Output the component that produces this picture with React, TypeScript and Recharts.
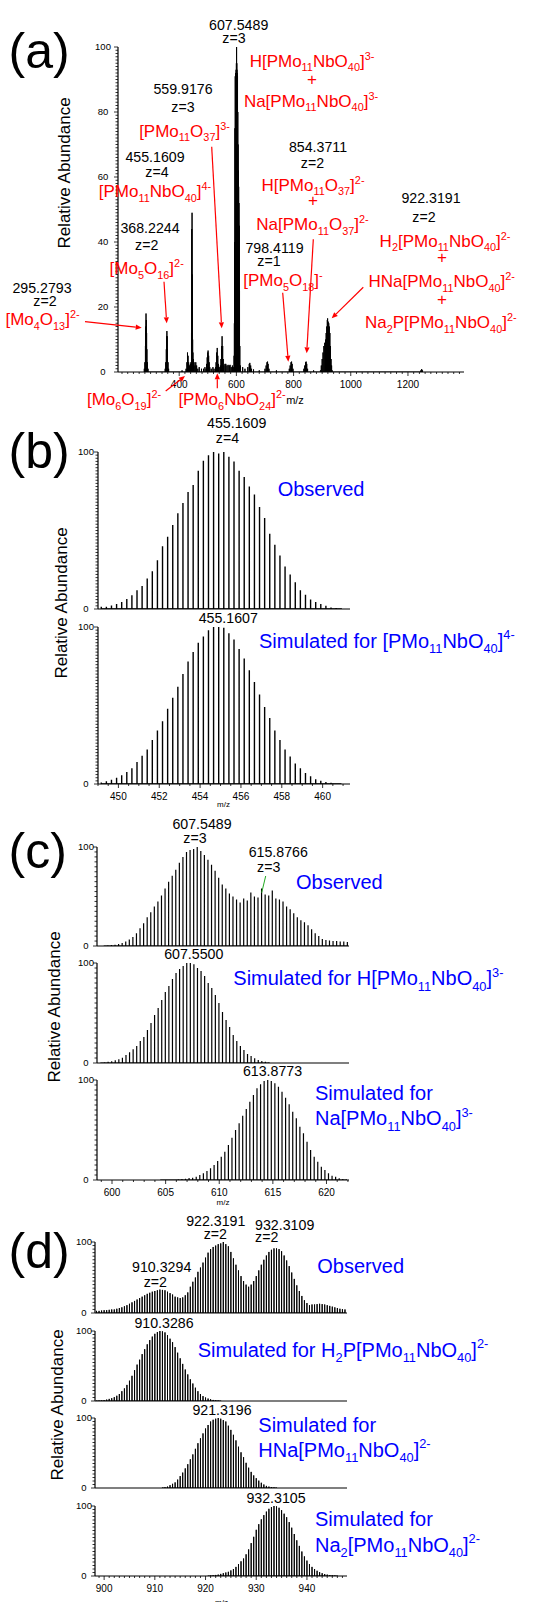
import React from 'react';
import { LineChart, Line, XAxis, YAxis } from 'recharts';

const FONT = '"Liberation Sans", Arial, sans-serif';
const RED = '#ff0000';
const BLUE = '#0000ff';

// (a) full scan, [m/z, relative abundance]
const FULL_SCAN: [number, number][] = [
  [278, 1], [280, 3], [282, 8], [283, 14], [284, 18], [285, 16], [286, 12], [287, 7], [289, 3], [291, 1],
  [351, 1], [353, 3], [355, 7], [356, 11], [357, 12.6], [358, 11], [359, 7], [361, 3], [363, 1],
  [410, 0.5], [424, 1], [427, 3], [429, 6], [431, 5], [433, 3], [436, 2], [439, 2.5],
  [441, 3], [443, 12], [444, 44], [445, 49], [446, 30], [447, 10], [448, 6], [450, 4], [452, 3], [455, 2],
  [458, 3], [461, 2], [465, 1], [470, 1.5], [478, 1],
  [485, 1], [490, 1.5], [494, 1], [496, 2.5], [498, 4.5], [500, 6], [501, 6.6], [503, 5], [505, 3], [507, 1.5],
  [512, 1], [518, 1.5], [522, 1],
  [527, 1.5], [529, 3], [531, 6], [533, 7.4], [535, 5], [537, 2.5], [540, 1.5],
  [544, 2], [546, 4], [548, 8], [550, 11], [552, 8], [554, 4], [556, 2],
  [560, 2.5], [563, 2.5], [567, 2], [571, 2.2], [575, 2], [578, 2.2], [582, 1.5], [586, 2], [589, 1.5],
  [592, 5], [593, 15], [594, 40], [595, 75], [596, 91], [597, 92], [598, 92], [599, 93], [600, 95], [600.7, 100],
  [601.5, 95], [602, 93], [603, 92], [604, 91], [605, 80], [606, 70], [607, 62], [608, 57], [609, 52], [610, 45],
  [611, 25], [612, 8], [614, 2],
  [622, 1.5], [630, 1], [640, 1.5], [645, 2.5], [647, 2.8], [650, 2], [653, 1], [660, 0.8], [680, 0.5],
  [700, 1], [704, 2], [707, 3], [709, 3.2], [711, 2.5], [714, 1], [740, 0.5],
  [785, 1], [788, 2], [791, 3], [793, 3.2], [795, 2.5], [798, 1],
  [836, 1], [839, 2], [842, 3], [844, 3.2], [846, 2.5], [849, 1], [870, 0.5],
  [894, 0.5], [897, 2], [900, 4], [903, 6], [906, 8], [909, 9], [912, 10], [914, 12], [916, 14], [918, 16],
  [919, 16.5], [920, 14], [921, 15.5], [923, 15], [925, 14], [927, 12], [929, 8], [931, 4], [933, 2], [935, 0.5],
  [1245, 0.5], [1248, 0.9], [1251, 0.5],
];

// (b) z=4, sticks every 0.25
const B_START = 449.16;
const B_OBSERVED = [
  1.5, 1.5, 2.3, 3.2, 4.5, 6.4, 8.7, 12, 14.6, 19.5, 24, 31, 40, 46, 53.5, 61, 67.5, 74.5, 79, 88,
  94.5, 98, 100, 99, 100, 97, 94, 88, 84, 78, 73, 65, 58, 48, 41, 34, 27, 22, 17, 12,
  9, 6, 4.5, 3.2, 2, 1, 0.7, 0.5,
];
const B_SIMULATED = [
  1, 1.7, 2.7, 4, 5.5, 7.6, 10, 14, 18, 22, 28, 34, 40, 48, 55, 62, 70, 78, 84, 90,
  94, 98, 100, 100, 99.5, 96, 92, 86, 80, 72.5, 65, 57, 49, 42, 34, 28, 22, 17.5, 13, 10,
  7, 5, 3, 2, 1.3, 0.8, 0.4, 0.2,
];

// (c) z=3, sticks every 1/3
const C_OBS_START = 599.28;
const C_OBSERVED = [
  0.5, 0.7, 1, 1.3, 2, 3, 4.5, 6.5, 9, 13, 18, 23, 29, 34, 40, 45, 51, 58, 65, 71,
  77, 84, 90, 95, 97, 98, 100, 96, 92, 87, 82, 76, 69, 62, 58, 53, 50, 47, 44, 48,
  46, 54, 50, 49, 58, 52, 51, 56, 48, 47, 45, 40, 37, 33, 29, 26, 24, 21, 17, 13,
  10, 7, 6, 5.5, 5, 5, 4.5, 4.5, 4,
];
const C_H_START = 598.97;
const C_SIM_H = [
  0.5, 0.8, 1.2, 1.8, 2.7, 3.7, 5.3, 8, 10.7, 13.7, 17, 22, 26, 33, 40, 48, 55, 63, 71, 77,
  84, 90, 94, 97, 100, 100, 98.7, 95, 92, 87, 80, 75, 68, 60, 51, 43, 36, 28, 22, 17,
  13, 9, 7, 4.7, 3, 2, 1.3, 0.7,
];
const C_NA_START = 604.52;
const C_SIM_NA = [
  0.2, 0.3, 0.4, 0.5, 0.6, 0.8,
  1, 1.3, 2, 2.3, 3.3, 5, 6.7, 9, 11.7, 15, 19, 23.3, 28.3, 35, 42.3, 50, 56.7, 64.3, 71, 78.3,
  85, 91.7, 95.7, 99, 100, 99, 96.7, 93.3, 88.3, 82.3, 75.7, 68.3, 61.7, 53.3, 46.7, 38.3, 30, 23.3,
  18.3, 13.3, 10, 6.7, 4.3, 3.3, 1.7, 1, 0.7,
];

// (d) z=2, sticks every 0.5
const D_OBS_START = 898.5;
const D_OBSERVED = [
  3, 3, 3.5, 4, 4, 4.5, 5, 5, 6, 7, 8, 9.5, 11, 13, 15, 17, 19, 21, 23, 25,
  27, 28.5, 30, 31, 32, 33, 32.5, 32, 30, 28, 26, 23, 22, 21, 22, 25, 29, 37, 44, 50,
  58, 64, 71, 78, 85, 90, 93, 95, 97, 98, 100, 97, 94, 86, 77, 68, 60, 52, 45, 40,
  37, 40, 45, 52, 60, 68, 75, 81, 86, 89, 91, 91, 90, 87, 81, 74, 66, 57, 48, 39,
  31, 24, 18, 14, 11, 12, 12, 12.5, 13, 12.5, 12, 11, 10, 9, 8, 7, 6, 5.5, 5,
];
const D_H2P_START = 898.5;
const D_SIM_H2P = [
  0.5, 0.6, 0.8, 1.2, 2, 3, 4, 5.5, 7.5, 10, 14, 18, 23, 29, 36, 44, 52, 59, 67, 74,
  81, 87, 92, 96, 98.5, 100, 99.5, 98, 94, 89, 84, 77, 69, 61, 53, 45, 38, 31, 25, 19,
  14, 10, 7, 5, 3.5, 2.5, 1.5, 1, 0.6, 0.3,
];
const D_HNA_START = 911.5;
const D_SIM_HNA = [
  0.5, 1, 2, 4, 6, 8, 12, 17, 22, 28, 34, 41, 48, 56, 64, 71, 78, 85, 90, 95,
  97.5, 99, 100, 99, 97, 95, 89, 83, 76, 68, 59, 51, 44, 36, 29, 23, 18, 14, 10.5, 7.5,
  5, 3, 2, 1.2, 0.7, 0.4,
];
const D_NA2_START = 920.5;
const D_SIM_NA2 = [
  0.3, 0.6, 1, 1.5, 2, 3, 4, 5, 6, 8, 10, 13, 17, 21, 25, 31, 38, 47, 56, 66,
  74, 81, 87, 92, 96, 98.5, 100, 99.5, 97.5, 94, 89, 84, 77, 69, 60, 51, 43, 35, 28, 22,
  17, 13, 10, 7.5, 5.5, 4, 2.8, 2, 1.3, 0.9, 0.6, 0.4,
];

const A_X_LABELS = [400, 600, 800, 1000, 1200];
const A_Y_LABELS = [0, 20, 40, 60, 80, 100];
const B_X_LABELS = [450, 452, 454, 456, 458, 460];
const C_X_LABELS = [600, 605, 610, 615, 620];
const D_X_LABELS = [900, 910, 920, 930, 940];
const SUB_Y_LABELS = [0, 100];

type Pt = { x: number; y: number };

function range(a: number, b: number, step: number) {
  const out: number[] = [];
  for (let v = a; v <= b + 1e-9; v += step) out.push(+v.toFixed(4));
  return out;
}

// each stick drawn as 0 -> h -> 0 so one Line traces the whole stick spectrum
function sticks(start: number, step: number, heights: number[]): Pt[] {
  const pts: Pt[] = [];
  heights.forEach((h, i) => {
    const x = start + i * step;
    pts.push({ x, y: 0 }, { x, y: h }, { x, y: 0 });
  });
  return pts;
}

function sticksFromPairs(pairs: [number, number][]): Pt[] {
  const pts: Pt[] = [];
  pairs.forEach(([x, h]) => pts.push({ x, y: 0 }, { x, y: h }, { x, y: 0 }));
  return pts;
}

const has = (list: number[], v: number) => list.some((l) => Math.abs(l - v) < 1e-6);

function XTick(props: any) {
  const { x, y, payload, labels, fontSize } = props;
  const lab = has(labels, payload.value);
  return (
    <g>
      <line x1={x} x2={x} y1={y} y2={y + (lab ? 4 : 2)} stroke="#000" strokeWidth={0.8} />
      {lab && (
        <text x={x} y={y + 15.5} textAnchor="middle" fontSize={fontSize} fontFamily={FONT} fill="#000">
          {payload.value}
        </text>
      )}
    </g>
  );
}

function YTick(props: any) {
  const { x, y, payload, labels, gap } = props;
  const lab = has(labels, payload.value);
  return (
    <g>
      <line x1={x} x2={x - (lab ? 4 : 2.5)} y1={y} y2={y} stroke="#000" strokeWidth={0.8} />
      {lab && (
        <text x={x - gap} y={y + 3.4} textAnchor="middle" fontSize={9.5} fontFamily={FONT} fill="#000">
          {payload.value}
        </text>
      )}
    </g>
  );
}

type SpectrumProps = {
  data: Pt[];
  axisX: number;
  right: number;
  top: number;
  bottom: number;
  domain: [number, number];
  xTicks?: number[];
  xLabels?: number[];
  yTicks: number[];
  yGap: number;
  yLabels?: number[];
  stroke?: number;
};

function Spectrum(p: SpectrumProps) {
  const ML = 40, MT = 6, MR = 6, XH = 24;
  const w = p.right - p.axisX + ML + MR;
  const h = p.bottom - p.top + MT + XH;
  const showX = !!p.xTicks;
  return (
    <div style={{ position: 'absolute', left: p.axisX - ML, top: p.top - MT }}>
      <LineChart width={w} height={h} data={p.data} margin={{ top: MT, right: MR, left: 0, bottom: 0 }}>
        <XAxis
          type="number"
          dataKey="x"
          domain={p.domain}
          allowDataOverflow
          ticks={showX ? p.xTicks : undefined}
          interval={0}
          height={XH}
          tickSize={0}
          tickMargin={0}
          tickLine={false}
          axisLine={{ stroke: '#000', strokeWidth: 1.2 }}
          tick={showX ? (tp: any) => <XTick {...tp} labels={p.xLabels} fontSize={10} /> : false}
        />
        <YAxis
          type="number"
          domain={[0, 100]}
          allowDataOverflow
          ticks={p.yTicks}
          interval={0}
          width={ML}
          tickSize={0}
          tickMargin={0}
          tickLine={false}
          axisLine={{ stroke: '#000', strokeWidth: 1.2 }}
          tick={(tp: any) => <YTick {...tp} labels={p.yLabels ?? SUB_Y_LABELS} gap={p.yGap} />}
        />
        <Line
          dataKey="y"
          type="linear"
          stroke="#000"
          strokeWidth={p.stroke ?? 1}
          strokeLinejoin="bevel"
          dot={false}
          activeDot={false}
          isAnimationActive={false}
        />
      </LineChart>
    </div>
  );
}

// chemical formula: _{..} subscript, ^{..} superscript
function Chem({ x, y, s, size, fill = '#000', anchor = 'middle' }: any) {
  const parts = s.split(/(_\{[^}]*\}|\^\{[^}]*\})/).filter(Boolean);
  let shift = 0;
  const spans = parts.map((part: string, i: number) => {
    let target = 0;
    let txt = part;
    let fs = size;
    if (part.startsWith('_{')) {
      target = size * 0.28;
      txt = part.slice(2, -1);
      fs = size * 0.64;
    } else if (part.startsWith('^{')) {
      target = -size * 0.42;
      txt = part.slice(2, -1);
      fs = size * 0.64;
    }
    const dy = target - shift;
    shift = target;
    return (
      <tspan key={i} dy={dy} fontSize={fs}>
        {txt}
      </tspan>
    );
  });
  return (
    <text x={x} y={y} textAnchor={anchor} fill={fill} fontSize={size} fontFamily={FONT} style={{ whiteSpace: 'pre' }}>
      {spans}
    </text>
  );
}

function Arrow({ x1, y1, x2, y2, color = RED }: any) {
  const a = Math.atan2(y2 - y1, x2 - x1);
  const L = 6, W = 2.6;
  const bx = x2 - L * Math.cos(a), by = y2 - L * Math.sin(a);
  const px = -Math.sin(a) * W, py = Math.cos(a) * W;
  return (
    <g>
      <line x1={x1} y1={y1} x2={bx} y2={by} stroke={color} strokeWidth={1.2} />
      <polygon points={`${x2},${y2} ${bx + px},${by + py} ${bx - px},${by - py}`} fill={color} />
    </g>
  );
}

function YTitle({ cx, cy }: { cx: number; cy: number }) {
  return (
    <text x={cx} y={cy} transform={`rotate(-90 ${cx} ${cy})`} textAnchor="middle" fontSize={17} fontFamily={FONT} fill="#000">
      Relative Abundance
    </text>
  );
}

const NUM = 14.2;
const RS = 17;
const BS = 20;

export default function App() {
  const bTicks = range(449, 461, 0.5);
  const cTicks = range(599, 622, 1);
  const dTicks = range(899, 947, 1);
  return (
    <div style={{ position: 'absolute', left: 0, top: 0, width: 534, height: 1602, background: '#fff', overflow: 'hidden', fontFamily: FONT }}>
      {/* (a) */}
      <Spectrum
        data={sticksFromPairs(FULL_SCAN)}
        axisX={118} right={464} top={47} bottom={372}
        domain={[186, 1396]}
        xTicks={range(200, 1380, 20)} xLabels={A_X_LABELS}
        yTicks={range(0, 100, 1)} yLabels={A_Y_LABELS} yGap={15}
      />
      {/* (b) */}
      <Spectrum data={sticks(B_START, 0.25, B_OBSERVED)} axisX={98} right={350} top={452} bottom={609}
        domain={[449.0, 461.34]} yTicks={range(0, 100, 2)} yGap={12} stroke={1.4} />
      <Spectrum data={sticks(B_START, 0.25, B_SIMULATED)} axisX={98} right={350} top={627} bottom={784}
        domain={[449.0, 461.34]} xTicks={bTicks} xLabels={B_X_LABELS} yTicks={range(0, 100, 2)} yGap={12} stroke={1.4} />
      {/* (c) */}
      <Spectrum data={sticks(C_OBS_START, 1 / 3, C_OBSERVED)} axisX={97} right={349} top={847} bottom={946}
        domain={[598.6, 622.1]} yTicks={range(0, 100, 5)} yGap={11} stroke={1.2} />
      <Spectrum data={sticks(C_H_START, 1 / 3, C_SIM_H)} axisX={97} right={349} top={963} bottom={1063}
        domain={[598.6, 622.1]} yTicks={range(0, 100, 5)} yGap={11} stroke={1.2} />
      <Spectrum data={sticks(C_NA_START, 1 / 3, C_SIM_NA)} axisX={97} right={349} top={1080} bottom={1180}
        domain={[598.6, 622.1]} xTicks={cTicks} xLabels={C_X_LABELS} yTicks={range(0, 100, 5)} yGap={11} stroke={1.2} />
      {/* (d) */}
      <Spectrum data={sticks(D_OBS_START, 0.5, D_OBSERVED)} axisX={95} right={347} top={1242} bottom={1313}
        domain={[898.2, 947.9]} yTicks={range(0, 100, 5)} yGap={11} />
      <Spectrum data={sticks(D_H2P_START, 0.5, D_SIM_H2P)} axisX={95} right={347} top={1331} bottom={1401}
        domain={[898.2, 947.9]} yTicks={range(0, 100, 5)} yGap={11} />
      <Spectrum data={sticks(D_HNA_START, 0.5, D_SIM_HNA)} axisX={95} right={347} top={1418} bottom={1488}
        domain={[898.2, 947.9]} yTicks={range(0, 100, 5)} yGap={11} />
      <Spectrum data={sticks(D_NA2_START, 0.5, D_SIM_NA2)} axisX={95} right={347} top={1506} bottom={1576}
        domain={[898.2, 947.9]} xTicks={dTicks} xLabels={D_X_LABELS} yTicks={range(0, 100, 5)} yGap={11} />

      <svg width={534} height={1602} style={{ position: 'absolute', left: 0, top: 0, pointerEvents: 'none' }}>
        {/* panel letters */}
        <text x={8.5} y={67.5} fontSize={50} fontFamily={FONT}>(a)</text>
        <text x={8.5} y={467.5} fontSize={50} fontFamily={FONT}>(b)</text>
        <text x={8.5} y={867.5} fontSize={50} fontFamily={FONT}>(c)</text>
        <text x={8.5} y={1267.5} fontSize={50} fontFamily={FONT}>(d)</text>

        <YTitle cx={70} cy={173} />
        <YTitle cx={67} cy={603} />
        <YTitle cx={60} cy={1007} />
        <YTitle cx={63} cy={1405} />

        {/* (a) annotations */}
        <Chem x={238.7} y={30} s="607.5489" size={NUM} />
        <Chem x={234} y={43} s="z=3" size={NUM} />
        <Chem x={312} y={66.7} s="H[PMo_{11}NbO_{40}]^{3-}" size={RS} fill={RED} />
        <Chem x={312} y={85} s="+" size={RS} fill={RED} />
        <Chem x={311} y={106.7} s="Na[PMo_{11}NbO_{40}]^{3-}" size={RS} fill={RED} />

        <Chem x={183} y={94.3} s="559.9176" size={NUM} />
        <Chem x={183} y={111.7} s="z=3" size={NUM} />
        <Chem x={184.5} y={136.7} s="[PMo_{11}O_{37}]^{3-}" size={RS} fill={RED} />

        <Chem x={155} y={161.7} s="455.1609" size={NUM} />
        <Chem x={157} y={176.7} s="z=4" size={NUM} />
        <Chem x={155} y={197} s="[PMo_{11}NbO_{40}]^{4-}" size={RS} fill={RED} />

        <Chem x={150} y={233.3} s="368.2244" size={NUM} />
        <Chem x={146.7} y={250} s="z=2" size={NUM} />
        <Chem x={146.7} y={274} s="[Mo_{5}O_{16}]^{2-}" size={RS} fill={RED} />

        <Chem x={42} y={293.3} s="295.2793" size={NUM} />
        <Chem x={45} y={306} s="z=2" size={NUM} />
        <Chem x={42.5} y={325} s="[Mo_{4}O_{13}]^{2-}" size={RS} fill={RED} />

        <Chem x={318} y={151.7} s="854.3711" size={NUM} />
        <Chem x={312.5} y={167.7} s="z=2" size={NUM} />
        <Chem x={313} y={190.7} s="H[PMo_{11}O_{37}]^{2-}" size={RS} fill={RED} />
        <Chem x={313} y={206} s="+" size={RS} fill={RED} />
        <Chem x={312.5} y={230} s="Na[PMo_{11}O_{37}]^{2-}" size={RS} fill={RED} />

        <Chem x={274.5} y={253.3} s="798.4119" size={NUM} />
        <Chem x={269} y={266} s="z=1" size={NUM} />
        <Chem x={283} y={286} s="[PMo_{5}O_{18}]^{-}" size={RS} fill={RED} />

        <Chem x={431} y={203} s="922.3191" size={NUM} />
        <Chem x={424} y={221.7} s="z=2" size={NUM} />
        <Chem x={445} y={246.7} s="H_{2}[PMo_{11}NbO_{40}]^{2-}" size={RS} fill={RED} />
        <Chem x={442} y={262.7} s="+" size={RS} fill={RED} />
        <Chem x={441.7} y={287.3} s="HNa[PMo_{11}NbO_{40}]^{2-}" size={RS} fill={RED} />
        <Chem x={442} y={305} s="+" size={RS} fill={RED} />
        <Chem x={440.8} y={328.3} s="Na_{2}P[PMo_{11}NbO_{40}]^{2-}" size={RS} fill={RED} />

        <Chem x={124} y={405} s="[Mo_{6}O_{19}]^{2-}" size={RS} fill={RED} />
        <Chem x={232} y={405} s="[PMo_{6}NbO_{24}]^{2-}" size={RS} fill={RED} />
        <Chem x={295} y={404} s="m/z" size={11} />

        <Arrow x1={85} y1={321.7} x2={141.7} y2={327.7} />
        <Arrow x1={164} y1={281.7} x2={166.7} y2={323.3} />
        <Arrow x1={211.7} y1={146.7} x2={221.7} y2={328.3} />
        <Arrow x1={282.7} y1={292.7} x2={288.3} y2={361.7} />
        <Arrow x1={313.3} y1={239.3} x2={306.7} y2={353.3} />
        <Arrow x1={363.3} y1={287.3} x2={331.7} y2={318.3} />
        <Arrow x1={165.7} y1={391} x2={185} y2={376} />
        <Arrow x1={217.3} y1={388.3} x2={217.3} y2={373.3} />

        {/* (b) */}
        <Chem x={236.7} y={428.3} s="455.1609" size={NUM} />
        <Chem x={227.5} y={443.3} s="z=4" size={NUM} />
        <Chem x={277.7} y={496} s="Observed" size={BS} fill={BLUE} anchor="start" />
        <Chem x={228.3} y={623.3} s="455.1607" size={NUM} />
        <Chem x={259} y={647.7} s="Simulated for [PMo_{11}NbO_{40}]^{4-}" size={BS} fill={BLUE} anchor="start" />
        <Chem x={223.5} y={807} s="m/z" size={8} />

        {/* (c) */}
        <Chem x={202} y={829.3} s="607.5489" size={NUM} />
        <Chem x={195} y={842.7} s="z=3" size={NUM} />
        <Chem x={278.3} y={857.3} s="615.8766" size={NUM} />
        <Chem x={268.7} y={871.7} s="z=3" size={NUM} />
        <line x1={265.7} y1={876} x2={261.7} y2={892.7} stroke="#22aa22" strokeWidth={1} />
        <Chem x={296} y={889.3} s="Observed" size={BS} fill={BLUE} anchor="start" />
        <Chem x={193.8} y={959.3} s="607.5500" size={NUM} />
        <Chem x={233.3} y={985} s="Simulated for H[PMo_{11}NbO_{40}]^{3-}" size={BS} fill={BLUE} anchor="start" />
        <Chem x={272.5} y={1075.7} s="613.8773" size={NUM} />
        <Chem x={315} y={1100} s="Simulated for" size={BS} fill={BLUE} anchor="start" />
        <Chem x={315} y={1125} s="Na[PMo_{11}NbO_{40}]^{3-}" size={BS} fill={BLUE} anchor="start" />
        <Chem x={223} y={1205} s="m/z" size={8} />

        {/* (d) */}
        <Chem x={215.8} y={1226} s="922.3191" size={NUM} />
        <Chem x={215.3} y={1239.3} s="z=2" size={NUM} />
        <Chem x={284.7} y={1230} s="932.3109" size={NUM} />
        <Chem x={266.7} y={1241.7} s="z=2" size={NUM} />
        <Chem x={161.7} y={1272.3} s="910.3294" size={NUM} />
        <Chem x={155.3} y={1286.7} s="z=2" size={NUM} />
        <Chem x={317.3} y={1273.3} s="Observed" size={BS} fill={BLUE} anchor="start" />
        <Chem x={164} y={1328.3} s="910.3286" size={NUM} />
        <Chem x={197.7} y={1356.7} s="Simulated for H_{2}P[PMo_{11}NbO_{40}]^{2-}" size={BS} fill={BLUE} anchor="start" />
        <Chem x={222} y={1415} s="921.3196" size={NUM} />
        <Chem x={258.3} y={1431.7} s="Simulated for" size={BS} fill={BLUE} anchor="start" />
        <Chem x={258.3} y={1456.7} s="HNa[PMo_{11}NbO_{40}]^{2-}" size={BS} fill={BLUE} anchor="start" />
        <Chem x={276} y={1502.7} s="932.3105" size={NUM} />
        <Chem x={315} y={1526} s="Simulated for" size={BS} fill={BLUE} anchor="start" />
        <Chem x={315} y={1551.7} s="Na_{2}[PMo_{11}NbO_{40}]^{2-}" size={BS} fill={BLUE} anchor="start" />
        <Chem x={221.5} y={1605} s="m/z" size={8} />
      </svg>
    </div>
  );
}
